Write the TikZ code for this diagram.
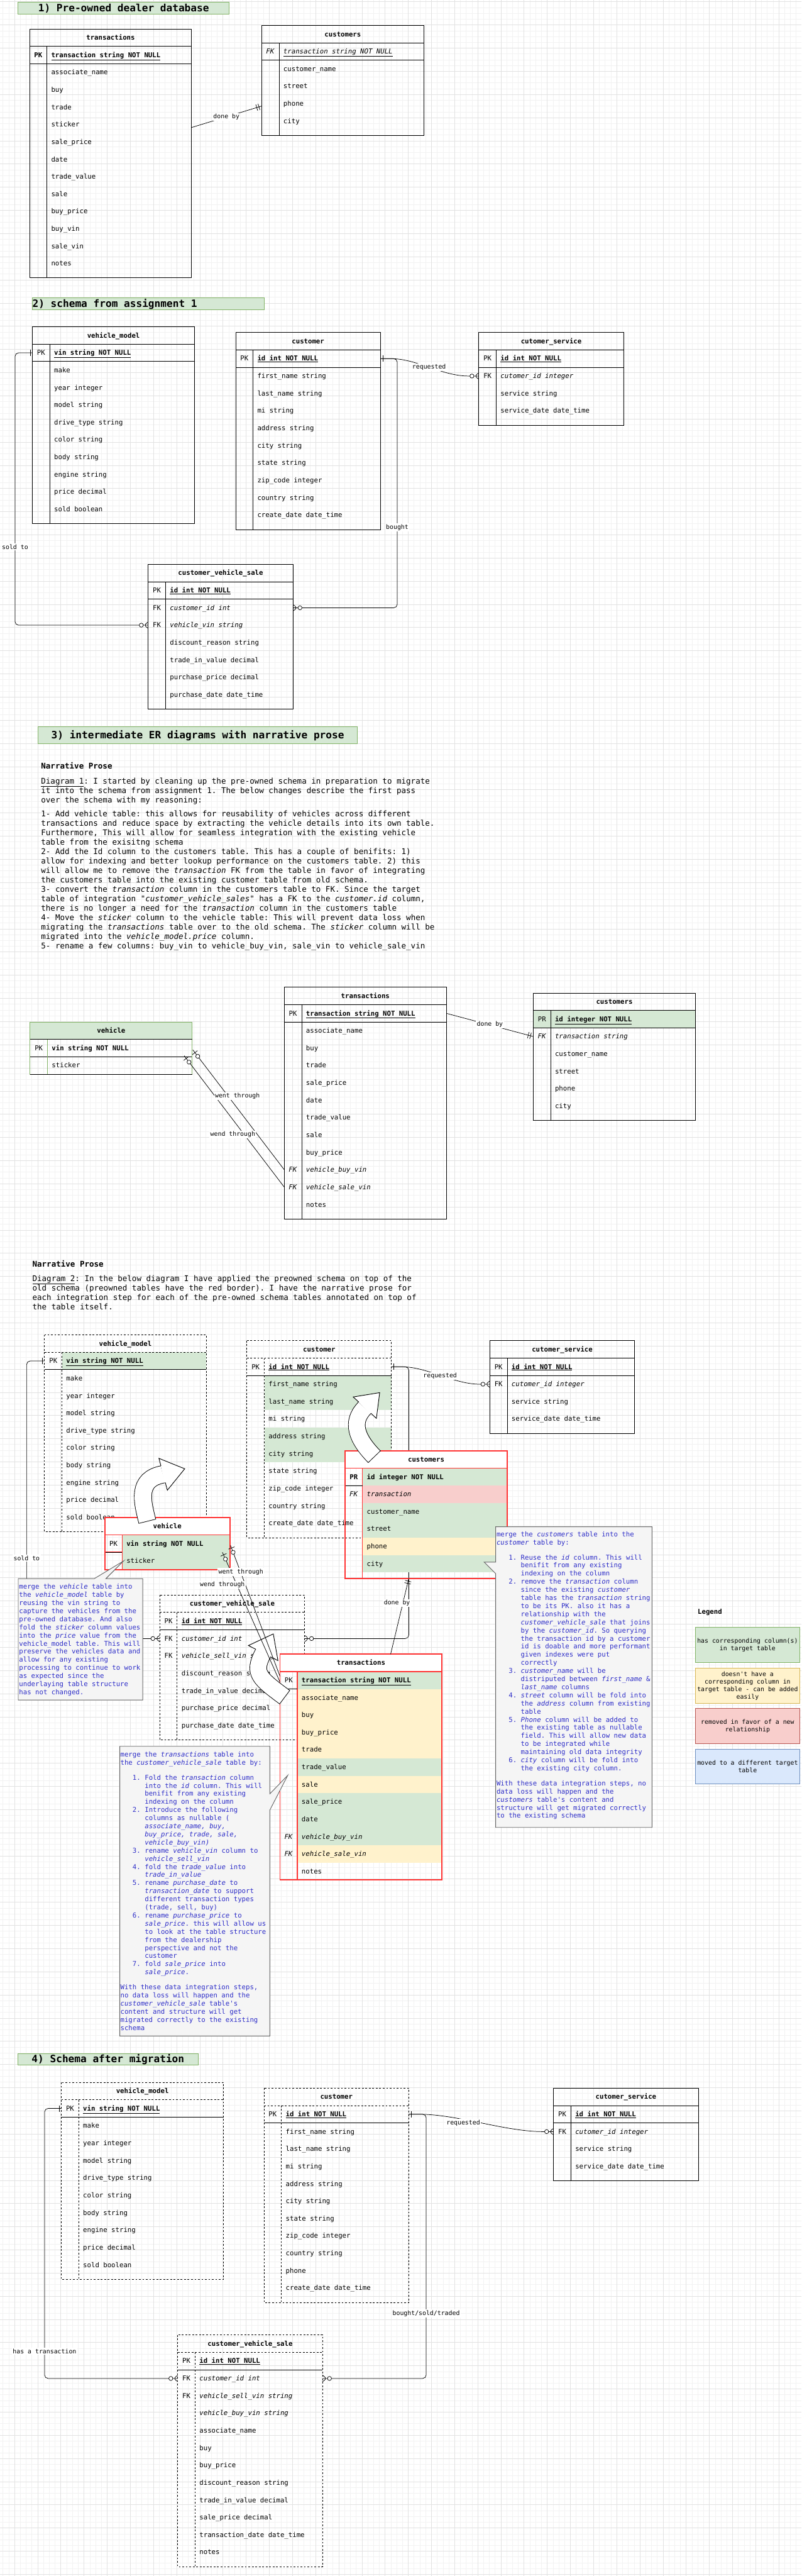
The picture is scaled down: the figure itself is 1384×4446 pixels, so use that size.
\documentclass[tikz,border=0pt]{standalone}
\usepackage{fontspec}
\setmonofont{DejaVu Sans Mono}
\usetikzlibrary{calc,decorations.markings}
\definecolor{gfill}{HTML}{D5E8D4}
\definecolor{gline}{HTML}{82B366}
\definecolor{yfill}{HTML}{FFF2CC}
\definecolor{yline}{HTML}{D6B656}
\definecolor{rfill}{HTML}{F8CECC}
\definecolor{rline}{HTML}{B85450}
\definecolor{bfill}{HTML}{DAE8FC}
\definecolor{bline}{HTML}{6C8EBF}
\definecolor{nfill}{HTML}{F5F5F5}
\definecolor{nline}{HTML}{666666}
\definecolor{ntext}{HTML}{2E2EC8}
\definecolor{redb}{HTML}{FF3333}
\definecolor{gminor}{HTML}{F2F2F2}
\definecolor{gmajor}{HTML}{E2E2E2}
\newcommand{\ftbl}{\ttfamily\fontsize{11.6}{14}\selectfont}
\newcommand{\flbl}{\ttfamily\fontsize{10.7}{13}\selectfont}
\newcommand{\fpro}{\ttfamily\fontsize{13.6}{16.3}\selectfont}
\newcommand{\fnote}{\ttfamily\fontsize{11.6}{14}\selectfont}
\newcommand{\ftit}{\ttfamily\bfseries\fontsize{17.5}{21}\selectfont}
\newcommand{\settable}[4]{\def\Tx{#1}\def\Ty{#2}\def\Tw{#3}\def\Tk{#4}}
\newcommand{\fillrow}[2]{\fill[#2] ({\Tx+\Tk},{\Ty+30*#1}) rectangle ({\Tx+\Tw},{\Ty+30*#1+30});}
\newcommand{\fillrowall}[2]{\fill[#2] (\Tx,{\Ty+30*#1}) rectangle ({\Tx+\Tw},{\Ty+30*#1+30});}
\newcommand{\trow}[4]{%
  \coordinate (#1w) at (\Tx,{\Ty+30*#2+15});
  \coordinate (#1e) at ({\Tx+\Tw},{\Ty+30*#2+15});
  \node[keyt] (#1k) at ({\Tx+\Tk/2},{\Ty+30*#2+19}) {#3};
  \node[fld] (#1f) at ({\Tx+\Tk+7.5},{\Ty+30*#2+19}) {#4};}
\newcommand{\tframe}[4]{%
  \draw[#3] (\Tx,\Ty) rectangle ({\Tx+\Tw},{\Ty+#2});
  \draw[#3] (\Tx,{\Ty+30}) -- ({\Tx+\Tw},{\Ty+30});
  \draw[#3] ({\Tx+\Tk},{\Ty+30}) -- ({\Tx+\Tk},{\Ty+#2});
  \draw[tline] (\Tx,{\Ty+60}) -- ({\Tx+\Tw},{\Ty+60});
  \node[hdr] (#1) at ({\Tx+\Tw/2},{\Ty+19}) {#4};}
\newcommand{\redframe}[3]{%
  \fill[white] (\Tx,\Ty) rectangle ({\Tx+\Tw},{\Ty+30});
  \draw[redk] (\Tx,{\Ty+30}) rectangle ({\Tx+\Tk},{\Ty+60});
  \draw[redk] ({\Tx+\Tk},{\Ty+30}) -- ({\Tx+\Tk},{\Ty+#2});
  \draw[tline] (\Tx,{\Ty+60}) -- ({\Tx+\Tk},{\Ty+60});
  \draw[redl] (\Tx,{\Ty+30}) -- ({\Tx+\Tw},{\Ty+30});
  \draw[redl] (\Tx,\Ty) rectangle ({\Tx+\Tw},{\Ty+#2});
  \node[hdr] (#1) at ({\Tx+\Tw/2},{\Ty+19}) {#3};}
\newcommand{\mkbar}[1]{\draw[solid,line width=0.8pt] (#1,-5.5) -- (#1,5.5);}
\newcommand{\mkcrow}{\draw[solid,line width=0.8pt] (0,-5.5) -- (-8,0) -- (0,5.5);}
\newcommand{\mkcirc}[1]{\draw[solid,line width=0.8pt,fill=white] (#1,0) circle (3.5);}
\newcommand{\li}[2]{\hspace*{21pt}\makebox[21pt][l]{#1}#2}
\newcommand{\lc}[1]{\hspace*{42pt}#1}
\begin{document}
\begin{tikzpicture}[x=1pt,y=-1pt,
  every node/.style={inner sep=0pt,outer sep=0pt},
  tline/.style={draw=black,line width=1pt},
  dline/.style={draw=black,line width=1pt,dash pattern=on 3pt off 3pt},
  redl/.style={draw=redb,line width=2pt},
  redk/.style={draw=redb,line width=1.4pt},
  keyt/.style={font=\ftbl,anchor=base},
  fld/.style={font=\ftbl,anchor=base west},
  hdr/.style={font=\ftbl\bfseries,anchor=base},
  lbl/.style={font=\flbl,fill=white,inner sep=1.5pt,anchor=center},
  conn/.style={draw=black,line width=0.8pt,rounded corners=6pt},
  titlebox/.style={draw=gline,fill=gfill,line width=1pt},
  ttext/.style={font=\ftit,anchor=base},
  mstart/.style={postaction={decorate,decoration={markings,mark=at position 0 with {#1}}}},
  mend/.style={postaction={decorate,decoration={markings,mark=at position 1 with {#1}}}},
  note/.style={fill=nfill,draw=nline,line width=1pt},
  notetext/.style={font=\fnote,text=ntext,align=left,anchor=north west},
  prose/.style={font=\fpro,align=left,anchor=north west},
  legend/.style={line width=1pt,minimum width=180pt,minimum height=60pt,align=center,font=\flbl},
  arrowborder/.style={draw=black,line width=1pt,fill=white,line join=miter}
]
\useasboundingbox (0,0) rectangle (1384,4446);
\fill[white] (0,0) rectangle (1384,4446);
% grid
\foreach \i in {0,...,138} \draw[gminor,line width=0.6pt] ({\i*10+5},0) -- ({\i*10+5},4446);
\foreach \j in {0,...,444} \draw[gminor,line width=0.6pt] (0,{\j*10+3}) -- (1384,{\j*10+3});
\foreach \i in {0,...,34} \draw[gmajor,line width=0.6pt] ({\i*40+25},0) -- ({\i*40+25},4446);
\foreach \j in {0,...,111} \draw[gmajor,line width=0.6pt] (0,{\j*40+3}) -- (1384,{\j*40+3});

% ================= Section 1
\node[titlebox,minimum width=365pt,minimum height=20pt] (t1b) at (213.5,14) {};
\node[ttext] (t1) at (213.5,20) {1) Pre-owned dealer database};

\settable{51}{50}{280}{30}
\tframe{s1t}{429}{tline}{transactions}
\trow{s1t1}{1}{\textbf{PK}}{\textbf{\underline{transaction string NOT NULL}}}
\trow{s1t2}{2}{}{associate\_name}
\trow{s1t3}{3}{}{buy}
\trow{s1t4}{4}{}{trade}
\trow{s1t5}{5}{}{sticker}
\trow{s1t6}{6}{}{sale\_price}
\trow{s1t7}{7}{}{date}
\trow{s1t8}{8}{}{trade\_value}
\trow{s1t9}{9}{}{sale}
\trow{s1t10}{10}{}{buy\_price}
\trow{s1t11}{11}{}{buy\_vin}
\trow{s1t12}{12}{}{sale\_vin}
\trow{s1t13}{13}{}{notes}

\settable{452}{44}{280}{30}
\tframe{s1c}{190}{tline}{customers}
\trow{s1c1}{1}{\textit{FK}}{\textit{\underline{transaction string NOT NULL}}}
\trow{s1c2}{2}{}{customer\_name}
\trow{s1c3}{3}{}{street}
\trow{s1c4}{4}{}{phone}
\trow{s1c5}{5}{}{city}

\coordinate (s1a) at (331,220);
\coordinate (s1b) at (452,183);
\draw[conn,mend={\mkbar{-5}\mkbar{-9}}] (s1a) -- (s1b);
\node[lbl] (l1) at (391,202) {done by};

% ================= Section 2
\node[titlebox,minimum width=400pt,minimum height=20pt] (t2b) at (256,524) {};
\node[ttext,anchor=base west] (t2) at (56,530) {2) schema from assignment 1};

\settable{56}{564}{280}{30}
\tframe{s2vm}{340}{tline}{vehicle\_model}
\trow{s2vm1}{1}{PK}{\textbf{\underline{vin string NOT NULL}}}
\trow{s2vm2}{2}{}{make}
\trow{s2vm3}{3}{}{year integer}
\trow{s2vm4}{4}{}{model string}
\trow{s2vm5}{5}{}{drive\_type string}
\trow{s2vm6}{6}{}{color string}
\trow{s2vm7}{7}{}{body string}
\trow{s2vm8}{8}{}{engine string}
\trow{s2vm9}{9}{}{price decimal}
\trow{s2vm10}{10}{}{sold boolean}

\settable{407}{574}{250}{30}
\tframe{s2c}{340}{tline}{customer}
\trow{s2c1}{1}{PK}{\textbf{\underline{id int NOT NULL}}}
\trow{s2c2}{2}{}{first\_name string}
\trow{s2c3}{3}{}{last\_name string}
\trow{s2c4}{4}{}{mi string}
\trow{s2c5}{5}{}{address string}
\trow{s2c6}{6}{}{city string}
\trow{s2c7}{7}{}{state string}
\trow{s2c8}{8}{}{zip\_code integer}
\trow{s2c9}{9}{}{country string}
\trow{s2c10}{10}{}{create\_date date\_time}

\settable{827}{574}{250}{30}
\tframe{s2cs}{160}{tline}{cutomer\_service}
\trow{s2cs1}{1}{PK}{\textbf{\underline{id int NOT NULL}}}
\trow{s2cs2}{2}{FK}{\textit{cutomer\_id integer}}
\trow{s2cs3}{3}{}{service string}
\trow{s2cs4}{4}{}{service\_date date\_time}

\settable{256}{974}{250}{30}
\tframe{s2cvs}{250}{tline}{customer\_vehicle\_sale}
\trow{s2cvs1}{1}{PK}{\textbf{\underline{id int NOT NULL}}}
\trow{s2cvs2}{2}{FK}{\textit{customer\_id int}}
\trow{s2cvs3}{3}{FK}{\textit{vehicle\_vin string}}
\trow{s2cvs4}{4}{}{discount\_reason string}
\trow{s2cvs5}{5}{}{trade\_in\_value decimal}
\trow{s2cvs6}{6}{}{purchase\_price decimal}
\trow{s2cvs7}{7}{}{purchase\_date date\_time}

\coordinate (s2q1) at (669,619);
\coordinate (s2q2) at (815,649);
\draw[conn,mstart={\mkbar{4}},mend={\mkcrow\mkcirc{-12}}] (s2c1e) -- (s2q1) .. controls (720,619) and (763,649) .. (s2q2) -- (s2cs2w);
\node[lbl] (l2a) at (741,634) {requested};
\draw[conn,mend={\mkcrow\mkcirc{-12}}] (s2c1e) -- ++(29,0) |- (s2cvs2e);
\node[lbl] (l2b) at (686,910) {bought};
\draw[conn,mstart={\mkbar{4}},mend={\mkcrow\mkcirc{-12}}] (s2vm1w) -- ++(-30,0) |- (s2cvs3w);
\node[lbl] (l2c) at (26,944) {sold to};

% ================= Section 3
\node[titlebox,minimum width=551pt,minimum height=30pt] (t3b) at (341.5,1269) {};
\node[ttext] (t3) at (341.5,1275) {3) intermediate ER diagrams with narrative prose};
\node[font=\fpro\bfseries,anchor=base west] (np1) at (71,1326.5) {Narrative Prose};
\node[prose] (p1) at (71,1342.2) {%
\underline{Diagram 1}: I started by cleaning up the pre-owned schema in preparation to migrate\\
it into the schema from assignment 1. The below changes describe the first pass\\
over the schema with my reasoning:\\[8pt]
1- Add vehicle table: this allows for reusability of vehicles across different\\
transactions and reduce space by extracting the vehicle details into its own table.\\
Furthermore, This will allow for seamless integration with the existing vehicle\\
table from the exisitng schema\\
2- Add the Id column to the customers table. This has a couple of benifits: 1)\\
allow for indexing and better lookup performance on the customers table. 2) this\\
will allow me to remove the \textit{transaction} FK from the table in favor of integrating\\
the customers table into the existing customer table from old schema.\\
3- convert the \textit{transaction} column in the customers table to FK. Since the target\\
table of integration "\textit{customer\_vehicle\_sales}" has a FK to the \textit{customer.id} column,\\
there is no longer a need for the \textit{transaction} column in the customers table\\
4- Move the \textit{sticker} column to the vehicle table: This will prevent data loss when\\
migrating the \textit{transactions} table over to the old schema. The \textit{sticker} column will be\\
migrated into the \textit{vehicle\_model.price} column.\\
5- rename a few columns: buy\_vin to vehicle\_buy\_vin, sale\_vin to vehicle\_sale\_vin};

\settable{491}{1704}{280}{30}
\tframe{s3t}{400}{tline}{transactions}
\trow{s3t1}{1}{PK}{\textbf{\underline{transaction string NOT NULL}}}
\trow{s3t2}{2}{}{associate\_name}
\trow{s3t3}{3}{}{buy}
\trow{s3t4}{4}{}{trade}
\trow{s3t5}{5}{}{sale\_price}
\trow{s3t6}{6}{}{date}
\trow{s3t7}{7}{}{trade\_value}
\trow{s3t8}{8}{}{sale}
\trow{s3t9}{9}{}{buy\_price}
\trow{s3t10}{10}{\textit{FK}}{\textit{vehicle\_buy\_vin}}
\trow{s3t11}{11}{\textit{FK}}{\textit{vehicle\_sale\_vin}}
\trow{s3t12}{12}{}{notes}

\settable{921}{1714}{280}{30}
\fillrowall{1}{gfill}
\tframe{s3c}{220}{tline}{customers}
\trow{s3c1}{1}{PR}{\textbf{\underline{id integer NOT NULL}}}
\trow{s3c2}{2}{\textit{FK}}{\textit{transaction string}}
\trow{s3c3}{3}{}{customer\_name}
\trow{s3c4}{4}{}{street}
\trow{s3c5}{5}{}{phone}
\trow{s3c6}{6}{}{city}

\settable{52}{1764}{280}{30}
\fill[gfill] (52,1764) rectangle (332,1794);
\draw[tline] (52,1824) -- (332,1824);
\draw[draw=gline,line width=1pt] (82,1794) -- (82,1854);
\draw[draw=gline,line width=1pt] (52,1764) rectangle (332,1854);
\draw[tline] (52,1854) -- (332,1854);
\draw[tline] (52,1794) -- (332,1794);
\node[hdr] (s3v) at (192,1783) {vehicle};
\trow{s3v1}{1}{PK}{\textbf{vin string NOT NULL}}
\trow{s3v2}{2}{}{sticker}

\draw[conn,mend={\mkbar{-5}\mkbar{-9}}] (s3t1e) -- (s3c2w);
\node[lbl] (l3a) at (846,1768) {done by};
\coordinate (s3va) at (333,1812);
\coordinate (s3vb) at (318,1822);
\draw[conn,mstart={\mkbar{6}\mkcirc{14}}] (s3va) -- (s3t10w);
\draw[conn,mstart={\mkbar{6}\mkcirc{14}}] (s3vb) -- (s3t11w);
\node[lbl] (l3b) at (410,1892) {went through};
\node[lbl] (l3c) at (402,1958) {wend through};

% ================= Diagram 2 narrative
\node[font=\fpro\bfseries,anchor=base west] (np2) at (56,2186.5) {Narrative Prose};
\node[prose] (p2) at (56,2201.2) {%
\underline{Diagram 2}: In the below diagram I have applied the preowned schema on top of the\\
old schema (preowned tables have the red border). I have the narrative prose for\\
each integration step for each of the pre-owned schema tables annotated on top of\\
the table itself.};

% ================= Diagram 2 black tables
\settable{77}{2304}{279}{30}
\fillrow{1}{gfill}
\tframe{d2vm}{340}{dline}{vehicle\_model}
\trow{d2vm1}{1}{PK}{\textbf{\underline{vin string NOT NULL}}}
\trow{d2vm2}{2}{}{make}
\trow{d2vm3}{3}{}{year integer}
\trow{d2vm4}{4}{}{model string}
\trow{d2vm5}{5}{}{drive\_type string}
\trow{d2vm6}{6}{}{color string}
\trow{d2vm7}{7}{}{body string}
\trow{d2vm8}{8}{}{engine string}
\trow{d2vm9}{9}{}{price decimal}
\trow{d2vm10}{10}{}{sold boolean}

\settable{426.5}{2314}{249.5}{30}
\fillrow{2}{gfill}\fillrow{3}{gfill}\fillrow{5}{gfill}\fillrow{6}{gfill}
\tframe{d2c}{340}{dline}{customer}
\trow{d2c1}{1}{PK}{\textbf{\underline{id int NOT NULL}}}
\trow{d2c2}{2}{}{first\_name string}
\trow{d2c3}{3}{}{last\_name string}
\trow{d2c4}{4}{}{mi string}
\trow{d2c5}{5}{}{address string}
\trow{d2c6}{6}{}{city string}
\trow{d2c7}{7}{}{state string}
\trow{d2c8}{8}{}{zip\_code integer}
\trow{d2c9}{9}{}{country string}
\trow{d2c10}{10}{}{create\_date date\_time}

\settable{846}{2314}{250}{30}
\tframe{d2cs}{160}{tline}{cutomer\_service}
\trow{d2cs1}{1}{PK}{\textbf{\underline{id int NOT NULL}}}
\trow{d2cs2}{2}{FK}{\textit{cutomer\_id integer}}
\trow{d2cs3}{3}{}{service string}
\trow{d2cs4}{4}{}{service\_date date\_time}

\settable{276}{2753}{250}{30}
\tframe{d2cvs}{250}{dline}{customer\_vehicle\_sale}
\trow{d2cvs1}{1}{PK}{\textbf{\underline{id int NOT NULL}}}
\trow{d2cvs2}{2}{FK}{\textit{customer\_id int}}
\trow{d2cvs3}{3}{FK}{\textit{vehicle\_sell\_vin string}}
\trow{d2cvs4}{4}{}{discount\_reason string}
\trow{d2cvs5}{5}{}{trade\_in\_value decimal}
\trow{d2cvs6}{6}{}{purchase\_price decimal}
\trow{d2cvs7}{7}{}{purchase\_date date\_time}

% connectors under the red tables
\draw[conn,mstart={\mkbar{4}},mend={\mkcrow\mkcirc{-12}}] (d2vm1w) -- ++(-31,0) |- (d2cvs2w);
\node[lbl] (l4a) at (46,2689) {sold to};
\draw[conn,mend={\mkcrow\mkcirc{-12}}] (d2c1e) -- ++(30,0) |- (d2cvs2e);
\coordinate (d2q1) at (688,2359);
\coordinate (d2q2) at (834,2389);
\draw[conn,mstart={\mkbar{4}},mend={\mkcrow\mkcirc{-12}}] (d2c1e) -- (d2q1) .. controls (738,2359) and (784,2389) .. (d2q2) -- (d2cs2w);
\node[lbl] (l4b) at (760,2375) {requested};

% ================= Diagram 2 red tables
\settable{596}{2504}{280}{30}
\fillrow{1}{gfill}\fillrow{2}{rfill}\fillrow{3}{gfill}\fillrow{4}{gfill}\fillrow{5}{yfill}\fillrow{6}{gfill}
\redframe{d2cu}{220}{customers}
\trow{d2cu1}{1}{\textbf{PR}}{\textbf{id integer NOT NULL}}
\trow{d2cu2}{2}{\textit{FK}}{\textit{transaction}}
\trow{d2cu3}{3}{}{customer\_name}
\trow{d2cu4}{4}{}{street}
\trow{d2cu5}{5}{}{phone}
\trow{d2cu6}{6}{}{city}

\settable{181}{2619}{216}{30}
\fillrow{1}{gfill}\fillrow{2}{gfill}
\redframe{d2v}{90}{vehicle}
\trow{d2v1}{1}{PK}{\textbf{vin string NOT NULL}}
\trow{d2v2}{2}{}{sticker}

\settable{483.5}{2855}{280}{30}
\fillrow{1}{gfill}\fillrow{2}{yfill}\fillrow{3}{yfill}\fillrow{4}{yfill}\fillrow{5}{yfill}
\fillrow{6}{gfill}\fillrow{7}{yfill}\fillrow{8}{gfill}\fillrow{9}{gfill}\fillrow{10}{gfill}\fillrow{11}{yfill}
\redframe{d2t}{389}{transactions}
\trow{d2t1}{1}{PK}{\textbf{\underline{transaction string NOT NULL}}}
\trow{d2t2}{2}{}{associate\_name}
\trow{d2t3}{3}{}{buy}
\trow{d2t4}{4}{}{buy\_price}
\trow{d2t5}{5}{}{trade}
\trow{d2t6}{6}{}{trade\_value}
\trow{d2t7}{7}{}{sale}
\trow{d2t8}{8}{}{sale\_price}
\trow{d2t9}{9}{}{date}
\trow{d2t10}{10}{\textit{FK}}{\textit{vehicle\_buy\_vin}}
\trow{d2t11}{11}{\textit{FK}}{\textit{vehicle\_sale\_vin}}
\trow{d2t12}{12}{}{notes}

% ================= Big migration arrows
% A: vehicle -> vehicle_model
\draw[line width=31pt,black] (254.5,2626) .. controls (246,2592) and (235,2553) .. (281.7,2544.5);
\draw[line width=29pt,white,shorten <=1pt] (254.5,2626) .. controls (246,2592) and (235,2553) .. (281.7,2544.5);
\filldraw[arrowborder] (274.5,2517) -- (319,2535) -- (289,2572) -- cycle;
\draw[line width=29pt,white] (280.7,2544.7) -- (284,2544);
% B: customers -> customer
\draw[line width=30pt,black] (646.7,2514.5) .. controls (615,2482) and (605.5,2454) .. (630,2429.5);
\draw[line width=28pt,white,shorten <=1pt] (646.7,2514.5) .. controls (615,2482) and (605.5,2454) .. (630,2429.5);
\filldraw[arrowborder] (610,2411) -- (655.7,2403.6) -- (650,2448) -- cycle;
\draw[line width=28pt,white] (629.3,2430.2) -- (632,2427.5);
% C: transactions -> customer_vehicle_sale
\draw[line width=30pt,black] (492,2929.5) .. controls (448,2896.5) and (435.7,2888) .. (454.5,2853);
\draw[line width=28pt,white,shorten <=1pt] (492,2929.5) .. controls (448,2896.5) and (435.7,2888) .. (454.5,2853);
\filldraw[arrowborder] (429,2840) -- (472,2820) -- (480,2866) -- cycle;
\draw[line width=28pt,white] (454,2854) -- (455.5,2851.2);

% went through lines and done by
\coordinate (d2va) at (398,2667);
\coordinate (d2vb) at (384,2679);
\coordinate (d2ta) at (483.5,2893);
\coordinate (d2tb) at (483.5,2903);
\draw[conn,mstart={\mkbar{5}\mkcirc{13}}] (d2va) -- (d2ta);
\draw[conn,mstart={\mkbar{5}\mkcirc{13}}] (d2vb) -- (d2tb);
\node[lbl] (l4c) at (416,2713) {went through};
\node[lbl] (l4d) at (384,2735.5) {wend through};
\coordinate (d2tdb) at (674.6,2855);
\coordinate (d2cudb) at (706,2724);
\draw[conn,mend={\mkbar{-5}\mkbar{-9}}] (d2tdb) -- (d2cudb);
\node[lbl] (l4e) at (685.6,2767) {done by};

% ================= Notes
\filldraw[note] (31.5,2724.5) -- (163,2724.5) -- (213.5,2694) -- (183,2724.5) -- (246.6,2724.5) -- (246.6,2934) -- (31.5,2934) -- cycle;
\node[notetext] (n1) at (33,2733.8) {%
merge the \textit{vehicle} table into\\
the \textit{vehicle\_model} table by\\
reusing the vin string to\\
capture the vehicles from the\\
pre-owned database. And also\\
fold the \textit{sticker} column values\\
into the \textit{price} value from the\\
vehicle\_model table. This will\\
preserve the vehicles data and\\
allow for any existing\\
processing to continue to work\\
as expected since the\\
underlaying table structure\\
has not changed.};

\filldraw[note] (207,3014) -- (466,3014) -- (466,3096) -- (497,3064) -- (466,3124) -- (466,3514) -- (207,3514) -- cycle;
\node[notetext] (n2) at (208,3023.1) {%
merge the \textit{transactions} table into\\
the \textit{customer\_vehicle\_sale} table by:\\[12pt]
\li{1.}{Fold the \textit{transaction} column}\\
\lc{into the \textit{id} column. This will}\\
\lc{benifit from any existing}\\
\lc{indexing on the column}\\
\li{2.}{Introduce the following}\\
\lc{columns as nullable (}\\
\lc{\textit{associate\_name, buy,}}\\
\lc{\textit{buy\_price, trade, sale,}}\\
\lc{\textit{vehicle\_buy\_vin)}}\\
\li{3.}{rename \textit{vehicle\_vin} column to}\\
\lc{\textit{vehicle\_sell\_vin}}\\
\li{4.}{fold the \textit{trade\_value} into}\\
\lc{\textit{trade\_in\_value}}\\
\li{5.}{rename \textit{purchase\_date} to}\\
\lc{\textit{transaction\_date} to support}\\
\lc{different transaction types}\\
\lc{(trade, sell, buy)}\\
\li{6.}{rename \textit{purchase\_price} to}\\
\lc{\textit{sale\_price}. this will allow us}\\
\lc{to look at the table structure}\\
\lc{from the dealership}\\
\lc{perspective and not the}\\
\lc{customer}\\
\li{7.}{fold \textit{sale\_price} into}\\
\lc{\textit{sale\_price}.}\\[12pt]
With these data integration steps,\\
no data loss will happen and the\\
\textit{customer\_vehicle\_sale} table's\\
content and structure will get\\
migrated correctly to the existing\\
schema};

\filldraw[note] (856,2635) -- (1126,2635) -- (1126,3154) -- (856,3154) -- (856,2716) -- (836,2696) -- (856,2696) -- cycle;
\node[notetext] (n3) at (857.5,2643.1) {%
merge the \textit{customers} table into the\\
\textit{customer} table by:\\[12pt]
\li{1.}{Reuse the \textit{id} column. This will}\\
\lc{benifit from any existing}\\
\lc{indexing on the column}\\
\li{2.}{remove the \textit{transaction} column}\\
\lc{since the existing \textit{customer}}\\
\lc{table has the \textit{transaction} string}\\
\lc{to be its PK. also it has a}\\
\lc{relationship with the}\\
\lc{\textit{customer\_vehicle\_sale} that joins}\\
\lc{by the \textit{customer\_id}. So querying}\\
\lc{the transaction id by a customer}\\
\lc{id is doable and more performant}\\
\lc{given indexes were put}\\
\lc{correctly}\\
\li{3.}{\textit{customer\_name} will be}\\
\lc{distriputed between \textit{first\_name} \&}\\
\lc{\textit{last\_name} columns}\\
\li{4.}{\textit{street} column will be fold into}\\
\lc{the \textit{address} column from existing}\\
\lc{table}\\
\li{5.}{\textit{Phone} column will be added to}\\
\lc{the existing table as nullable}\\
\lc{field. This will allow new data}\\
\lc{to be integrated while}\\
\lc{maintaining old data integrity}\\
\li{6.}{\textit{city} column will be fold into}\\
\lc{the existing city column.}\\[12pt]
With these data integration steps, no\\
data loss will happen and the\\
\textit{customers} table's content and\\
structure will get migrated correctly\\
to the existing schema};

% ================= Legend
\node[font=\ftbl\bfseries,anchor=base west] (lgt) at (1205,2786) {Legend};
\node[legend,draw=gline,fill=gfill] (lg1) at (1291,2839) {has corresponding column(s)\\in target table};
\node[legend,draw=yline,fill=yfill] (lg2) at (1291,2909.5) {doesn't have a\\corresponding column in\\target table - can be added\\easily};
\node[legend,draw=rline,fill=rfill] (lg3) at (1291,2979) {removed in favor of a new\\relationship};
\node[legend,draw=bline,fill=bfill] (lg4) at (1291,3049) {moved to a different target\\table};

% ================= Section 4
\node[titlebox,minimum width=311pt,minimum height=20pt] (t4b) at (186.5,3554) {};
\node[ttext] (t4) at (186.5,3560) {4) Schema after migration};

\settable{106}{3594}{280}{30}
\tframe{s4vm}{340}{dline}{vehicle\_model}
\trow{s4vm1}{1}{PK}{\textbf{\underline{vin string NOT NULL}}}
\trow{s4vm2}{2}{}{make}
\trow{s4vm3}{3}{}{year integer}
\trow{s4vm4}{4}{}{model string}
\trow{s4vm5}{5}{}{drive\_type string}
\trow{s4vm6}{6}{}{color string}
\trow{s4vm7}{7}{}{body string}
\trow{s4vm8}{8}{}{engine string}
\trow{s4vm9}{9}{}{price decimal}
\trow{s4vm10}{10}{}{sold boolean}

\settable{456}{3604}{250}{30}
\tframe{s4c}{370}{dline}{customer}
\trow{s4c1}{1}{PK}{\textbf{\underline{id int NOT NULL}}}
\trow{s4c2}{2}{}{first\_name string}
\trow{s4c3}{3}{}{last\_name string}
\trow{s4c4}{4}{}{mi string}
\trow{s4c5}{5}{}{address string}
\trow{s4c6}{6}{}{city string}
\trow{s4c7}{7}{}{state string}
\trow{s4c8}{8}{}{zip\_code integer}
\trow{s4c9}{9}{}{country string}
\trow{s4c10}{10}{}{phone}
\trow{s4c11}{11}{}{create\_date date\_time}

\settable{956}{3604}{250}{30}
\tframe{s4cs}{160}{tline}{cutomer\_service}
\trow{s4cs1}{1}{PK}{\textbf{\underline{id int NOT NULL}}}
\trow{s4cs2}{2}{FK}{\textit{cutomer\_id integer}}
\trow{s4cs3}{3}{}{service string}
\trow{s4cs4}{4}{}{service\_date date\_time}

\settable{307}{4030}{250}{30}
\tframe{s4cvs}{400}{dline}{customer\_vehicle\_sale}
\trow{s4cvs1}{1}{PK}{\textbf{\underline{id int NOT NULL}}}
\trow{s4cvs2}{2}{FK}{\textit{customer\_id int}}
\trow{s4cvs3}{3}{FK}{\textit{vehicle\_sell\_vin string}}
\trow{s4cvs4}{4}{}{\textit{vehicle\_buy\_vin string}}
\trow{s4cvs5}{5}{}{associate\_name}
\trow{s4cvs6}{6}{}{buy}
\trow{s4cvs7}{7}{}{buy\_price}
\trow{s4cvs8}{8}{}{discount\_reason string}
\trow{s4cvs9}{9}{}{trade\_in\_value decimal}
\trow{s4cvs10}{10}{}{sale\_price decimal}
\trow{s4cvs11}{11}{}{transaction\_date date\_time}
\trow{s4cvs12}{12}{}{notes}

\coordinate (s4q1) at (718,3649);
\coordinate (s4q2) at (944,3679);
\draw[conn,mstart={\mkbar{4}},mend={\mkcrow\mkcirc{-12}}] (s4c1e) -- (s4q1) .. controls (790,3649) and (872,3679) .. (s4q2) -- (s4cs2w);
\node[lbl] (l5a) at (800,3664) {requested};
\draw[conn,mend={\mkcrow\mkcirc{-12}}] (s4c1e) -- ++(30,0) |- (s4cvs2e);
\node[lbl] (l5b) at (736,3993) {bought/sold/traded};
\draw[conn,mstart={\mkbar{4}},mend={\mkcrow\mkcirc{-12}}] (s4vm1w) -- ++(-29,0) |- (s4cvs2w);
\node[lbl] (l5c) at (77,4058) {has a transaction};
\end{tikzpicture}
\end{document}
